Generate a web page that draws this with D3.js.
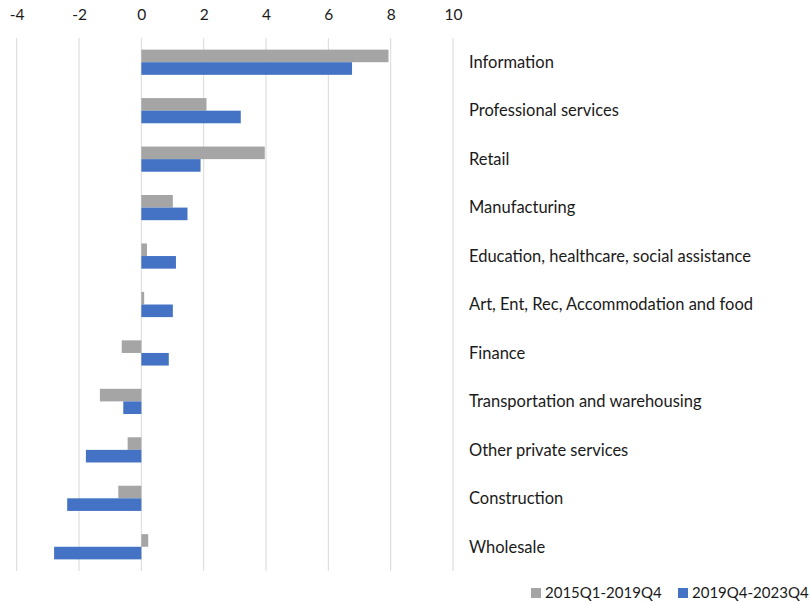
<!DOCTYPE html>
<html>
<head>
<meta charset="utf-8">
<script src="https://cdn.jsdelivr.net/npm/d3@7"></script>
<style>
  html, body { margin: 0; padding: 0; background: #fff; }
  svg { display: block; }
  text { font-family: Lato, "Open Sans", sans-serif; fill: #1a1a1a; }
</style>
</head>
<body>
<svg id="chart" width="810" height="603"></svg>
<script>
// Employment growth by industry, two periods (percent)
const categories = [
  "Information",
  "Professional services",
  "Retail",
  "Manufacturing",
  "Education, healthcare, social assistance",
  "Art, Ent, Rec, Accommodation and food",
  "Finance",
  "Transportation and warehousing",
  "Other private services",
  "Construction",
  "Wholesale"
];
const seriesNames = ["2015Q1-2019Q4", "2019Q4-2023Q4"];
const period1 = [7.93, 2.09, 3.96, 1.01, 0.18, 0.09, -0.63, -1.33, -0.44, -0.74, 0.22];
const period2 = [6.76, 3.19, 1.90, 1.48, 1.11, 1.01, 0.88, -0.58, -1.78, -2.38, -2.80];
const xTicks = [-4, -2, 0, 2, 4, 6, 8, 10];
const colors = ["#A5A5A5", "#4472C4"];

const svg = d3.select("#chart");
const plotLeft = 16.7, plotRight = 453, plotTop = 38, plotBottom = 571;

const x = d3.scaleLinear().domain([-4, 10]).range([plotLeft, plotRight]);
const y = d3.scaleBand().domain(categories).range([plotTop, plotBottom]).paddingInner(0.48).paddingOuter(0.24);
const sub = d3.scaleBand().domain(seriesNames).range([0, y.bandwidth()]);

// vertical gridlines
svg.append("g")
  .selectAll("line")
  .data(xTicks)
  .join("line")
  .attr("x1", d => x(d)).attr("x2", d => x(d))
  .attr("y1", plotTop).attr("y2", plotBottom)
  .attr("stroke", "#D9D9D9")
  .attr("stroke-width", 1);

// tick labels along the top (plain hyphen for negatives)
const axis = d3.axisTop(x).tickValues(xTicks).tickSize(0).tickPadding(0).tickFormat(d => String(d));
const ag = svg.append("g").attr("transform", "translate(0,20)").call(axis);
ag.select(".domain").remove();
ag.selectAll("text")
  .style("font-size", "15.5px")
  .style("font-family", "Lato, 'Open Sans', sans-serif")
  .attr("fill", "#1a1a1a");

// bars
const rows = categories.map((c, i) => ({ c, vals: [period1[i], period2[i]] }));
const g = svg.append("g").selectAll("g")
  .data(rows)
  .join("g")
  .attr("transform", d => `translate(0,${y(d.c)})`);

g.selectAll("rect")
  .data(d => d.vals.map((v, k) => ({ v, k })))
  .join("rect")
  .attr("x", d => x(Math.min(0, d.v)))
  .attr("width", d => Math.abs(x(d.v) - x(0)))
  .attr("y", d => sub(seriesNames[d.k]))
  .attr("height", sub.bandwidth())
  .attr("fill", d => colors[d.k]);

// category labels to the right of the plot
svg.append("g").selectAll("text")
  .data(categories)
  .join("text")
  .attr("x", 469)
  .attr("y", d => y(d) + y.bandwidth() / 2)
  .attr("dy", "0.35em")
  .style("font-size", "16.5px")
  .text(d => d);

// legend
const legendPos = [531, 678];
const lg = svg.append("g").selectAll("g")
  .data(seriesNames)
  .join("g")
  .attr("transform", (d, i) => `translate(${legendPos[i]},588)`);
lg.append("rect").attr("width", 10).attr("height", 10).attr("fill", (d, i) => colors[i]);
lg.append("text").attr("x", 14).attr("y", 5).attr("dy", "0.35em").style("font-size", "15px").text(d => d);
</script>
</body>
</html>
